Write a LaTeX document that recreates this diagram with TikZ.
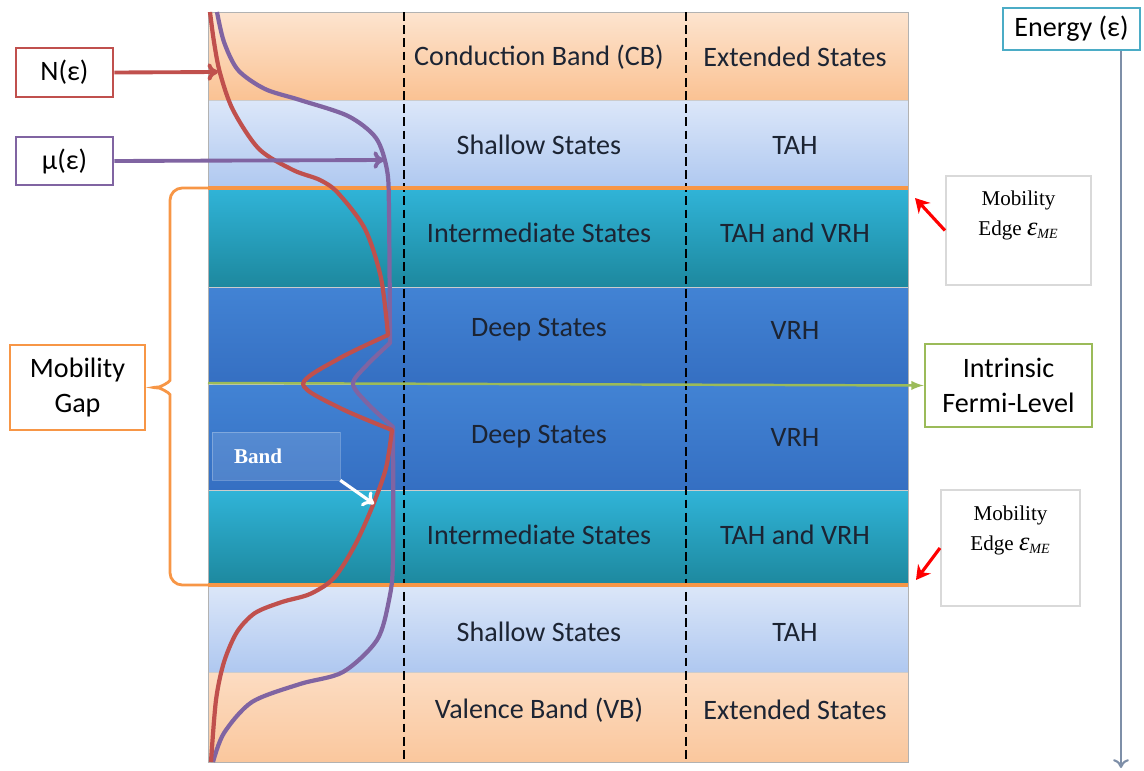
\documentclass[tikz,border=0pt]{standalone}
\usepackage{fontspec}
\setmainfont{Carlito}
\newfontfamily\timesfont{Liberation Serif}
\usetikzlibrary{positioning,arrows.meta}

\definecolor{cbtop}{HTML}{FDE4CF}
\definecolor{cbbot}{HTML}{FAC293}
\definecolor{shtop}{HTML}{DCE7F9}
\definecolor{shbot}{HTML}{AFC8F0}
\definecolor{imtop}{HTML}{30B4D8}
\definecolor{imbot}{HTML}{1D889E}
\definecolor{dptop}{HTML}{4283D4}
\definecolor{dpbot}{HTML}{356FC2}
\definecolor{vbtop}{HTML}{FCDCC2}
\definecolor{vbbot}{HTML}{FAC79D}
\definecolor{nred}{HTML}{C0504D}
\definecolor{mupur}{HTML}{8064A2}
\definecolor{gaporg}{HTML}{F79646}
\definecolor{fermigr}{HTML}{9BBB59}
\definecolor{entl}{HTML}{4BACC6}
\definecolor{enarr}{HTML}{7E8FA8}
\definecolor{txtdark}{HTML}{1C2433}

\newcommand{\epsme}{{\itshape\fontsize{15}{17}\selectfont ε}\textsubscript{\itshape ME}}

\tikzset{
  bandtxt/.style={font=\fontsize{16}{19}\selectfont, text=txtdark},
  labelbox/.style={draw=#1, line width=1.6pt, fill=white, align=center,
    font=\fontsize{16}{19.5}\selectfont, inner sep=0pt},
  mebox/.style={draw=black!15, line width=1.2pt, fill=white, inner sep=0pt},
  metxt/.style={font=\timesfont\fontsize{12}{17}\selectfont, align=center},
  curve/.style={line width=2.4pt, line join=round},
  brace/.style={draw=gaporg, line width=1.6pt, rounded corners=7pt},
}

\begin{document}
\begin{tikzpicture}[x=0.02cm, y=-0.02cm, >=latex]
  \useasboundingbox (0,0) rectangle (1144,771);

  % bands
  \foreach \ya/\yb/\ct/\cb in {12/100/cbtop/cbbot, 100/188/shtop/shbot,
      188/287/imtop/imbot, 287/384/dptop/dpbot, 384/490/dptop/dpbot,
      490/585/imtop/imbot, 585/672/shtop/shbot, 672/762/vbtop/vbbot}
    \shade[top color=\ct, bottom color=\cb, draw=black!20, line width=0.4pt]
      (208,\ya) rectangle (908,\yb);
  \draw[black!30] (208,12) rectangle (908,762);

  \draw[dash pattern=on 5pt off 2.5pt, line width=1.2pt] (404,12) -- (404,762);
  \draw[dash pattern=on 5pt off 2.5pt, line width=1.2pt] (686,12) -- (686,762);

  \draw[gaporg, line width=2.2pt] (208,188) -- (908,188);
  \draw[gaporg, line width=2.2pt] (208,585) -- (908,585);

  % band labels
  \foreach \y/\ta/\tb [count=\i] in {57/Conduction Band (CB)/Extended States,
      145/Shallow States/TAH, 233/Intermediate States/TAH and VRH,
      330/Deep States/VRH, 437/Deep States/VRH,
      535/Intermediate States/TAH and VRH, 632/Shallow States/TAH,
      710/Valence Band (VB)/Extended States} {
    \node[bandtxt] (st\i) at (539,\y) {\ta};
    \node[bandtxt] (tr\i) at (795,\y) {\tb};
  }

  % boxes
  \node[labelbox=nred, minimum width=1.94cm, minimum height=0.98cm] (nb) at (64.5,72.5) {N(ε)};
  \node[labelbox=mupur, minimum width=1.94cm, minimum height=0.96cm] (mb) at (64.5,161) {µ(ε)};
  \node[labelbox=gaporg, minimum width=2.7cm, minimum height=1.7cm] (gap) at (77.5,387.5) {Mobility\\Gap};
  \node[labelbox=entl, minimum width=2.74cm, minimum height=0.84cm] (en) at (1071.5,29) {Energy (ε)};
  \node[labelbox=fermigr, minimum width=3.34cm, minimum height=1.66cm, font=\fontsize{16}{20}\selectfont] (fermi) at (1008.5,385.5) {Intrinsic\\Fermi-Level};
  \node[mebox, minimum width=2.9cm, minimum height=2.18cm] (me1) at (1018.5,230.5) {};
  \node[metxt, below=0.2cm of me1.north] (me1t) {Mobility\\Edge \epsme};
  \node[mebox, minimum width=2.78cm, minimum height=2.32cm] (me2) at (1010.5,548) {};
  \node[metxt, below=0.22cm of me2.north] (me2t) {Mobility\\Edge \epsme};

  % fermi level
  \coordinate (fl) at (208,383);
  \draw[->, fermigr, line width=1.4pt] (fl) -- (fermi.west);

  % N(e) and mu(e)
  \draw[curve, mupur] plot[smooth] coordinates {(217,12) (224,42) (238,70) (265,89)
      (300,100) (348,116) (376,138) (387,170) (389,210) (390,343)}
    -- plot[smooth] coordinates {(390,343) (367,365) (353,384) (369,405) (393,427)}
    -- plot[smooth] coordinates {(393,427) (393,560) (389,600) (377,640) (343,672)
      (300,684) (252,702) (224,733) (213,762)};
  \draw[curve, nred] plot[smooth] coordinates {(210,12) (214,42) (220,73) (233,110)
      (259,149) (293,170) (320,180) (338,193) (365,229) (381,278) (388,335)}
    -- plot[smooth] coordinates {(388,335) (340,358) (303,384) (340,408) (392,430)}
    -- plot[smooth] coordinates {(392,430) (386,468) (373,505) (355,545) (334,578)
      (310,594) (282,602) (255,613) (237,632) (224,662) (216,700) (211,762)};

  \coordinate (na) at (218,72);
  \coordinate (ma) at (384,160);
  \draw[-{To[length=6pt,width=10pt]}, nred, line width=2.2pt] (nb.east) -- (na);
  \draw[-{To[length=6pt,width=10pt]}, mupur, line width=2.2pt] (mb.east) -- (ma);

  % mobility gap brace
  \draw[brace] (208,188) -| (170,368) .. controls (170,382) and (160,387) .. (gap.east)
    .. controls (160,388) and (170,393) .. (170,407) |- (208,585);

  % band box
  \node[draw=white, draw opacity=0.25, fill=white, fill opacity=0.13, text opacity=1,
    text=white, font=\timesfont\bfseries\fontsize{12}{14}\selectfont,
    minimum height=0.96cm, text width=1.68cm, inner xsep=0.44cm, align=left] (bd) at (276,456) {Band};
  \coordinate (bda) at (374,504);
  \draw[-{To[length=6pt,width=10pt]}, white, line width=1.8pt] (bd.south east) -- (bda);

  % mobility edge arrows
  \coordinate (e1) at (915,198);
  \coordinate (e2) at (916,580);
  \draw[-{Stealth[length=8pt,width=9pt]}, red, line width=1.8pt] (me1.west) -- (e1);
  \draw[-{Stealth[length=8pt,width=9pt]}, red, line width=1.8pt] (me2.west) -- (e2);

  % energy axis
  \coordinate (ea) at (1121,768);
  \draw[-{To[length=5pt,width=9pt]}, enarr, line width=1.2pt] (en.south -| ea) -- (ea);
\end{tikzpicture}
\end{document}
